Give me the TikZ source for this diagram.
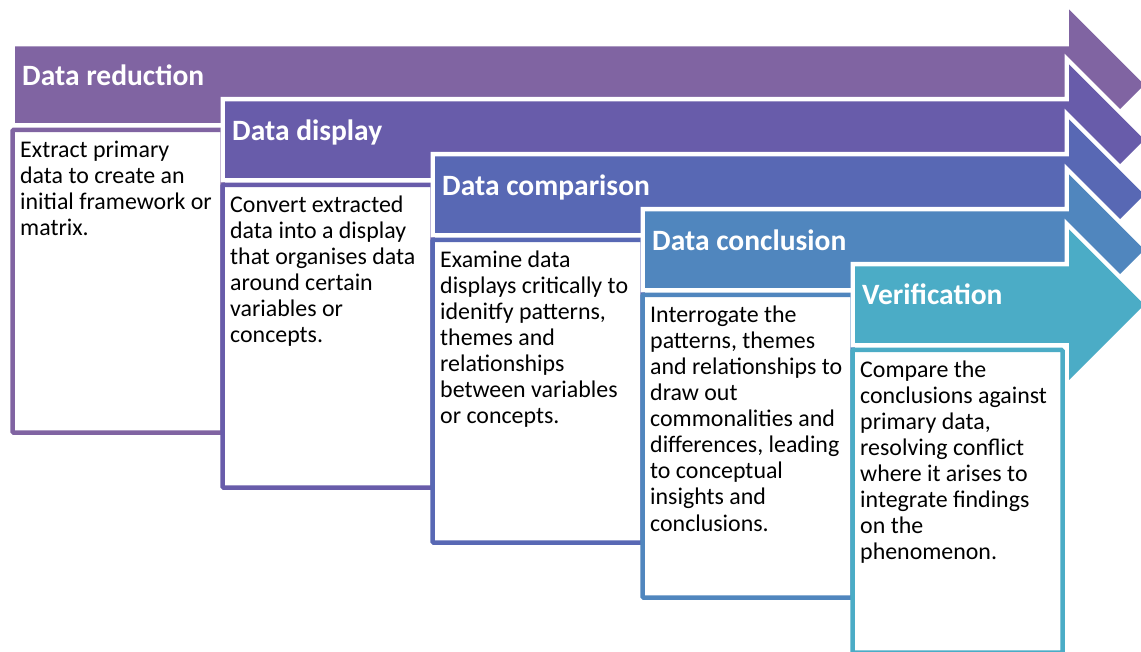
\documentclass[tikz,border=0pt]{standalone}
\usepackage{fontspec}
\setmainfont{Carlito}
\definecolor{reducecol}{HTML}{8064A2}
\definecolor{displaycol}{HTML}{685CAA}
\definecolor{comparecol}{HTML}{5868B4}
\definecolor{concludecol}{HTML}{5086BE}
\definecolor{verifycol}{HTML}{4BACC6}
\begin{document}
\begin{tikzpicture}[x=1pt, y=-1pt,
        steparrow/.style={fill=#1, preaction={draw=white, line width=9pt, line join=miter}},
        steptitle/.style={text=white, font=\fontsize{29.5}{35}\selectfont\bfseries, inner sep=0pt, anchor=base west},
        stepbox/.style={draw=#1, fill=white, line width=4.5pt, rounded corners=1pt, minimum width=210pt, minimum height=302.5pt, inner sep=0pt, outer sep=0pt, anchor=north west},
        steptext/.style={font=\fontsize{23.9}{26.1}\selectfont, align=left, inner sep=0pt, anchor=north west}]
        \useasboundingbox (0,0) rectangle (1141,652);

        \pgfmathsetmacro{\bodyh}{76.5}
        \pgfmathsetmacro{\headw}{75.25}
        \pgfmathsetmacro{\headup}{37}

        % Data reduction
        \path[steparrow=reducecol] (15,46.5) -- (1069,46.5) -- ++(0,-\headup) -- ++(\headw,\headw) -- ++(-\headw,\headw) -- ++(0,-\headup) -- (15,46.5+\bodyh) -- cycle;
        \node[steptitle] (title1) at (22,85.5) {Data reduction};
        \node[stepbox=reducecol] (box1) at (12.5,130) {};
        \node[steptext] (text1) at ([xshift=7.5pt,yshift=-8.8pt]box1.north west) {\strut Extract primary\\data to create an\\initial framework or\\matrix.};

        % Data display
        \path[steparrow=displaycol] (225,101.5) -- (1069,101.5) -- ++(0,-\headup) -- ++(\headw,\headw) -- ++(-\headw,\headw) -- ++(0,-\headup) -- (225,101.5+\bodyh) -- cycle;
        \node[steptitle] (title2) at (232,140.5) {Data display};
        \node[stepbox=displaycol] (box2) at (222.5,185) {};
        \node[steptext] (text2) at ([xshift=7.5pt,yshift=-8.8pt]box2.north west) {\strut Convert extracted\\data into a display\\that organises data\\around certain\\variables or\\concepts.};

        % Data comparison
        \path[steparrow=comparecol] (435,156.5) -- (1069,156.5) -- ++(0,-\headup) -- ++(\headw,\headw) -- ++(-\headw,\headw) -- ++(0,-\headup) -- (435,156.5+\bodyh) -- cycle;
        \node[steptitle] (title3) at (442,195.5) {Data comparison};
        \node[stepbox=comparecol] (box3) at (432.5,240) {};
        \node[steptext] (text3) at ([xshift=7.5pt,yshift=-8.8pt]box3.north west) {\strut Examine data\\displays critically to\\idenitfy patterns,\\themes and\\relationships\\between variables\\or concepts.};

        % Data conclusion
        \path[steparrow=concludecol] (645,211.5) -- (1069,211.5) -- ++(0,-\headup) -- ++(\headw,\headw) -- ++(-\headw,\headw) -- ++(0,-\headup) -- (645,211.5+\bodyh) -- cycle;
        \node[steptitle] (title4) at (652,250.5) {Data conclusion};
        \node[stepbox=concludecol] (box4) at (642.5,295) {};
        \node[steptext] (text4) at ([xshift=7.5pt,yshift=-8.8pt]box4.north west) {\strut Interrogate the\\patterns, themes\\and relationships to\\draw out\\commonalities and\\differences, leading\\to conceptual\\insights and\\conclusions.};

        % Verification
        \path[steparrow=verifycol] (855,266.5) -- (1069,266.5) -- ++(0,-\headup) -- ++(\headw,\headw) -- ++(-\headw,\headw) -- ++(0,-\headup) -- (855,266.5+\bodyh) -- cycle;
        \node[steptitle] (title5) at (862,305) {Verification};
        \node[stepbox=verifycol] (box5) at (852.5,350) {};
        \node[steptext] (text5) at ([xshift=7.5pt,yshift=-8.8pt]box5.north west) {\strut Compare the\\conclusions against\\primary data,\\resolving conflict\\where it arises to\\integrate findings\\on the\\phenomenon.};
    \end{tikzpicture}
\end{document}
